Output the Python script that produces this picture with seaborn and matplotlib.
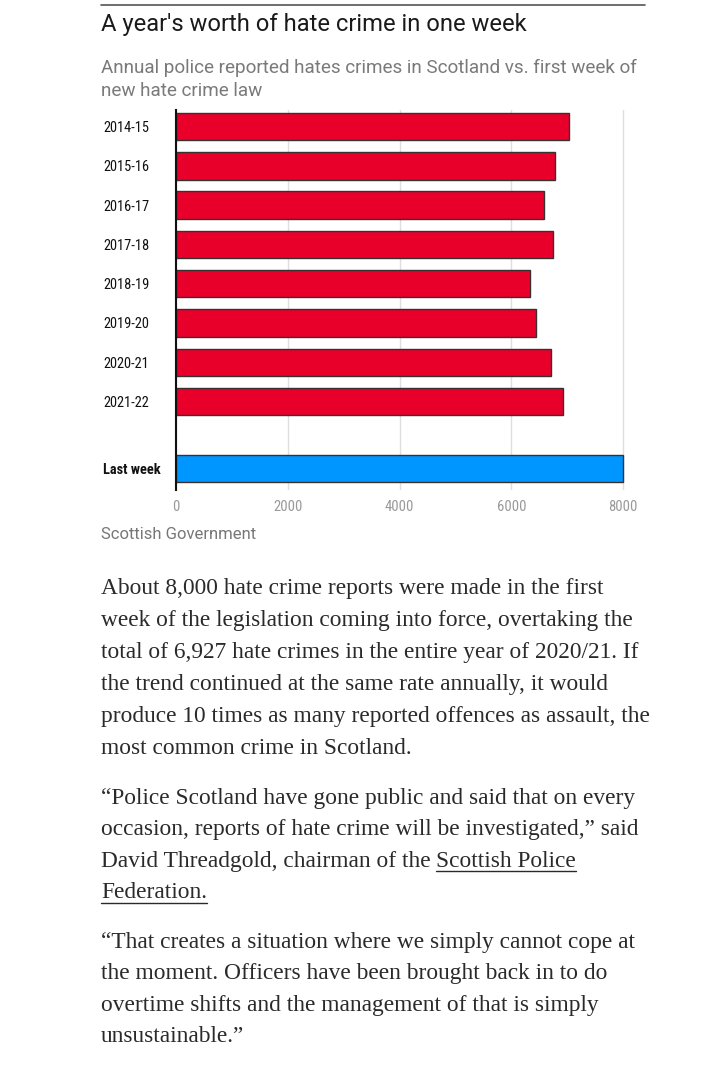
import numpy as np
import pandas as pd
import matplotlib
matplotlib.use("Agg")
import matplotlib.pyplot as plt
import seaborn as sns
from matplotlib import font_manager as fm
from matplotlib.lines import Line2D

# ---------------- data ----------------
periods = ["2014-15", "2015-16", "2016-17", "2017-18", "2018-19",
           "2019-20", "2020-21", "2021-22", "Last week"]
crimes = [7030, 6790, 6580, 6740, 6330, 6450, 6720, 6930, 8000]
kinds = ["Annual"] * 8 + ["First week"]
xticks = [0, 2000, 4000, 6000, 8000]

title = "A year's worth of hate crime in one week"
subtitle = ["Annual police reported hates crimes in Scotland vs. first week of",
            "new hate crime law"]
source = "Scottish Government"
para1 = ["About 8,000 hate crime reports were made in the first",
         "week of the legislation coming into force, overtaking the",
         "total of 6,927 hate crimes in the entire year of 2020/21. If",
         "the trend continued at the same rate annually, it would",
         "produce 10 times as many reported offences as assault, the",
         "most common crime in Scotland."]
para2 = ["\u201cPolice Scotland have gone public and said that on every",
         "occasion, reports of hate crime will be investigated,\u201d said",
         "David Threadgold, chairman of the ",
         ""]
link1 = "Scottish Police"
link2 = "Federation."
para3 = ["\u201cThat creates a situation where we simply cannot cope at",
         "the moment. Officers have been brought back in to do",
         "overtime shifts and the management of that is simply",
         "unsustainable.\u201d"]

# ---------------- setup ----------------
W, H = 720, 1067
sns.set_theme(style="white")
avail = {f.name for f in fm.fontManager.ttflist}


def pick(*names):
    for n in names:
        if n in avail:
            return n
    return "DejaVu Sans"


sans = pick("Roboto", "Inter", "Liberation Sans")
cond = pick("Liberation Sans Narrow", "Roboto Condensed", "DejaVu Sans")
serif = pick("Liberation Serif", "DejaVu Serif")
plt.rcParams["font.family"] = [sans, "DejaVu Sans"]

fig = plt.figure(figsize=(W / 100, H / 100), dpi=100)
fig.patch.set_facecolor("white")


def fy(y):
    return 1 - y / H


def fx(x):
    return x / W


# axes
x0, x1 = 176, 623
xmax = 8040
x1e = x0 + (x1 - x0) * xmax / 8000
ax = fig.add_axes([fx(x0), fy(490), (x1e - x0) / W, (490 - 110) / H])

ypos = list(np.arange(8, dtype=float)) + [8.7]
df = pd.DataFrame({"period": periods, "crimes": crimes, "kind": kinds, "pos": ypos})
sns.barplot(data=df, x="crimes", y="pos", hue="kind", orient="y",
            native_scale=True, dodge=False, width=0.7, saturation=1,
            palette={"Annual": "#E8002A", "First week": "#0096FF"},
            edgecolor="#3a3030", linewidth=1.0, legend=False, ax=ax)

ax.set_xlim(0, xmax)
ax.set_ylim(9.25, -0.42)
ax.set_xticks(xticks)
ax.set_xticklabels([str(v) for v in xticks])
ax.set_yticks(ypos)
ax.set_yticklabels(periods)
ax.set_xlabel("")
ax.set_ylabel("")
ax.xaxis.grid(True, color="#dedede", lw=1)
ax.yaxis.grid(False)
ax.set_axisbelow(True)
for s in ["top", "right", "bottom"]:
    ax.spines[s].set_visible(False)
ax.spines["left"].set_color("#111111")
ax.spines["left"].set_linewidth(1.5)
ax.spines["left"].set_zorder(5)
ax.tick_params(axis="y", length=0, pad=(x0 - 103) * 0.72)
ax.tick_params(axis="x", length=0, pad=7, colors="#999999")
for lab in ax.get_yticklabels():
    lab.set_ha("left")
    lab.set_fontfamily([cond, "DejaVu Sans"])
    lab.set_fontsize(10.4)
    lab.set_color("#111111")
    if lab.get_text() == "Last week":
        lab.set_fontweight("bold")
for lab in ax.get_xticklabels():
    lab.set_fontfamily([cond, "DejaVu Sans"])
    lab.set_fontsize(10.5)

# ---------------- texts ----------------
fig.add_artist(Line2D([fx(101), fx(645)], [fy(5), fy(5)], color="#555555", lw=1.2))
fig.text(fx(101), fy(31), title, fontsize=17.1, color="#1a1a1a", va="baseline",
         family=[sans, "DejaVu Sans"])
for i, s in enumerate(subtitle):
    fig.text(fx(101), fy(73 + 23 * i), s, fontsize=13.6, color="#7a7a7a",
             va="baseline", family=[sans, "DejaVu Sans"])
fig.text(fx(101), fy(539), source, fontsize=12, color="#777777",
         va="baseline", family=[sans, "DejaVu Sans"])

body_kw = dict(fontsize=16.8, color="#2a2a2a", va="baseline",
               family=[serif, "DejaVu Serif"])
for i, s in enumerate(para1):
    fig.text(fx(101), fy(594 + 32 * i), s, **body_kw)
base2 = [804, 835.5, 867, 898.5]
texts2 = []
for i, s in enumerate(para2):
    texts2.append(fig.text(fx(101), fy(base2[i]), s, **body_kw))
for i, s in enumerate(para3):
    fig.text(fx(101), fy(948 + 31.5 * i), s, **body_kw)

fig.canvas.draw()
r = fig.canvas.get_renderer()
bb = texts2[2].get_window_extent(r)
lx = bb.x1 / W
t1 = fig.text(lx, fy(base2[2]), link1, **body_kw)
t2 = fig.text(fx(101), fy(base2[3]), link2, **body_kw)
fig.canvas.draw()
for t, b in [(t1, base2[2]), (t2, base2[3])]:
    e = t.get_window_extent(r)
    fig.add_artist(Line2D([e.x0 / W, e.x1 / W], [fy(b + 4), fy(b + 4)],
                          color="#2a2a2a", lw=1.0))

fig.savefig("out.png", dpi=100, facecolor="white")
